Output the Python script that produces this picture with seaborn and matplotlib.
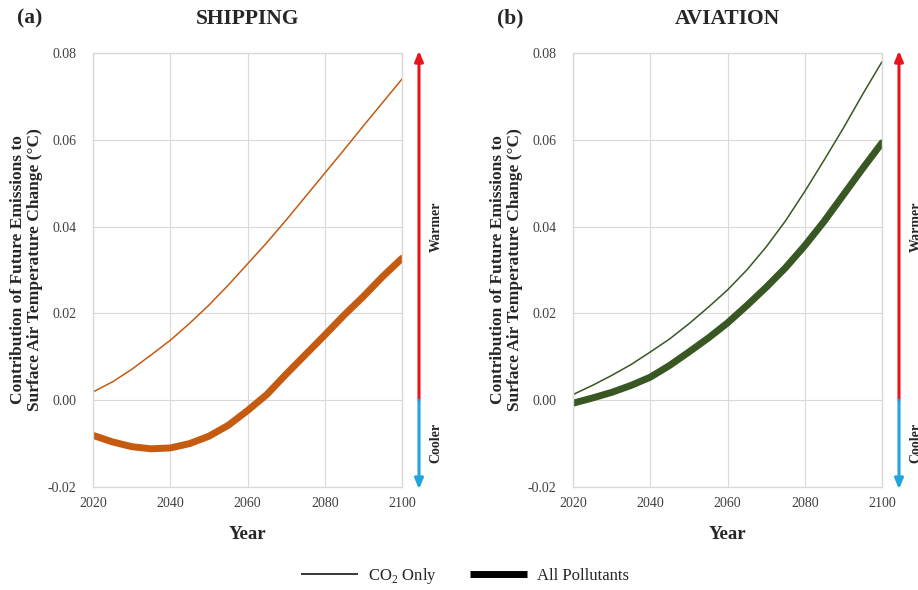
import numpy as np
import pandas as pd
import seaborn as sns
from matplotlib import pyplot as plt
from matplotlib.lines import Line2D

# Values (deg C), every 5 years
years = [2020, 2025, 2030, 2035, 2040, 2045, 2050, 2055, 2060,
         2065, 2070, 2075, 2080, 2085, 2090, 2095, 2100]
shipping_co2 = [0.0019, 0.0042, 0.0071, 0.0104, 0.0138, 0.0177, 0.0219, 0.0265, 0.0314,
                0.0363, 0.0415, 0.0469, 0.0523, 0.0577, 0.0632, 0.0686, 0.0740]
shipping_all = [-0.0081, -0.0096, -0.0107, -0.0112, -0.0110, -0.0100, -0.0083, -0.0058, -0.0024,
                0.0013, 0.0060, 0.0105, 0.0150, 0.0196, 0.0239, 0.0285, 0.0327]
aviation_co2 = [0.0013, 0.0034, 0.0057, 0.0082, 0.0111, 0.0141, 0.0176, 0.0214, 0.0254,
                0.0300, 0.0353, 0.0413, 0.0481, 0.0553, 0.0627, 0.0705, 0.0780]
aviation_all = [-0.0007, 0.0005, 0.0018, 0.0034, 0.0053, 0.0080, 0.0111, 0.0143, 0.0178,
                0.0218, 0.0260, 0.0305, 0.0356, 0.0412, 0.0473, 0.0534, 0.0593]

x_ticks = [2020, 2040, 2060, 2080, 2100]
y_ticks = [-0.02, 0.00, 0.02, 0.04, 0.06, 0.08]

panels = [
    ('(a)', 'SHIPPING', shipping_co2, shipping_all, '#C55A11'),
    ('(b)', 'AVIATION', aviation_co2, aviation_all, '#385723'),
]

sns.set_style('whitegrid', {'grid.color': '#d9d9d9', 'axes.edgecolor': '#d9d9d9'})
plt.rcParams['font.family'] = ['Liberation Serif', 'DejaVu Serif']
plt.rcParams['mathtext.fontset'] = 'custom'
plt.rcParams['mathtext.rm'] = 'Liberation Serif'

fig = plt.figure(figsize=(9.18, 5.90), dpi=100)
W, H = 918, 590
ax_left_px = [93, 573]
ax_w, ax_top, ax_bot = 309, 53, 487

for i, (tag, name, co2, allp, color) in enumerate(panels):
    ax = fig.add_axes([ax_left_px[i] / W, 1 - ax_bot / H, ax_w / W, (ax_bot - ax_top) / H])
    df = pd.DataFrame({'year': years, 'co2': co2, 'all': allp})
    sns.lineplot(data=df, x='year', y='co2', ax=ax, color=color, linewidth=1.1)
    sns.lineplot(data=df, x='year', y='all', ax=ax, color=color, linewidth=5.0)
    ax.set_xlim(2020, 2100)
    ax.set_ylim(-0.02, 0.08)
    ax.set_xticks(x_ticks)
    ax.set_yticks(y_ticks)
    ax.set_yticklabels([f'{v:.2f}' for v in y_ticks])
    ax.tick_params(axis='both', labelsize=10, colors='#404040', length=0)
    ax.tick_params(axis='y', pad=12)
    ax.tick_params(axis='x', pad=7)
    for s in ax.spines.values():
        s.set_linewidth(1.0)
    ax.set_xlabel('Year', fontsize=13.5, fontweight='bold', labelpad=12)
    ax.set_ylabel('Contribution of Future Emissions to\nSurface Air Temperature Change (°C)',
                  fontsize=12.5, fontweight='bold', labelpad=3, linespacing=1.15)
    ax.set_title(name, fontsize=15.5, fontweight='bold', pad=21)
    fig.text((ax_left_px[i] - 63) / W, 1 - 18 / H, tag, fontsize=15.5, fontweight='bold',
             ha='center', va='center')

    # warmer / cooler arrows to the right of each panel
    tr = ax.get_yaxis_transform()
    ax.annotate('', xy=(1.055, 0.0805), xytext=(1.055, 0.0), xycoords=tr, textcoords=tr,
                annotation_clip=False,
                arrowprops=dict(arrowstyle='-|>,head_length=0.6,head_width=0.25',
                                color='#E8141B', lw=2.2, shrinkA=0, shrinkB=0))
    ax.annotate('', xy=(1.055, -0.0205), xytext=(1.055, 0.0), xycoords=tr, textcoords=tr,
                annotation_clip=False,
                arrowprops=dict(arrowstyle='-|>,head_length=0.6,head_width=0.25',
                                color='#22A4DC', lw=2.2, shrinkA=0, shrinkB=0))
    ax.text(1.11, 0.040, 'Warmer', transform=tr, rotation=90, fontsize=10,
            fontweight='bold', ha='center', va='center', clip_on=False)
    ax.text(1.11, -0.0098, 'Cooler', transform=tr, rotation=90, fontsize=10,
            fontweight='bold', ha='center', va='center', clip_on=False)

handles = [Line2D([], [], color='black', linewidth=1.1, solid_capstyle='butt'),
           Line2D([], [], color='black', linewidth=5.0, solid_capstyle='butt')]
fig.legend(handles, ['CO$_\\mathrm{2}$ Only', 'All Pollutants'], loc='center',
           bbox_to_anchor=(465 / W, 1 - 576 / H), ncol=2, frameon=False, fontsize=12,
           handlelength=3.4, handletextpad=0.6, columnspacing=2.0)

fig.savefig('out.png', dpi=100)
